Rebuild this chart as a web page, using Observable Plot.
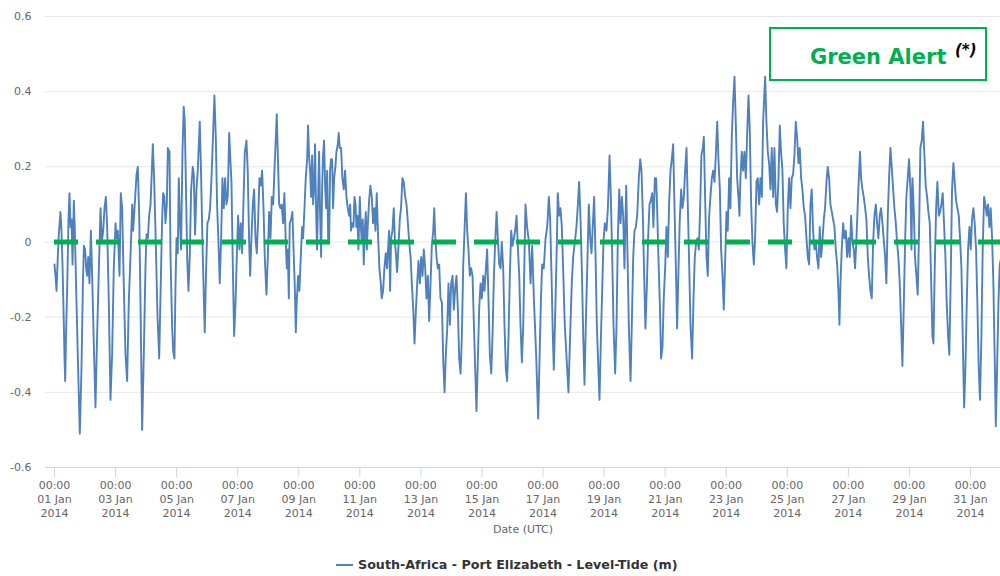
<!DOCTYPE html>
<html><head><meta charset="utf-8">
<script src="https://cdn.jsdelivr.net/npm/d3@7"></script>
<script src="https://cdn.jsdelivr.net/npm/@observablehq/plot@0.6"></script>
<style>
body{margin:0;background:#fff;font-family:"DejaVu Sans",Verdana,sans-serif;}
#wrap{position:relative;width:1000px;height:576px;overflow:hidden;}
#chart{position:absolute;left:0;top:0;}
#alertBox{position:absolute;left:769px;top:27px;width:218px;height:54px;box-sizing:border-box;border:2px solid #00b050;background:#fff;}
#alertText{position:absolute;left:810px;top:45px;font-weight:bold;font-size:21px;line-height:24px;color:#00b050;white-space:nowrap;}
#alertStar{position:absolute;left:955px;top:42px;font-weight:bold;font-style:italic;font-size:15px;line-height:16px;color:#000;}
#legSym{position:absolute;left:336px;top:564px;width:17px;height:2px;background:#4f81bd;}
#legText{position:absolute;left:358px;top:558px;font-weight:bold;font-size:12.7px;line-height:14px;color:#333;white-space:nowrap;}
</style>
</head><body>
<div id="wrap"><div id="chart"></div>
<div id="alertBox"></div><div id="alertText"></div><div id="alertStar"></div>
<div id="legSym"></div><div id="legText"></div></div>
<script>
// [hours since 2014-01-01 00:00 UTC, level (m)]
const tideReadings = [
[0.0,-0.06],[0.8,-0.09],[1.6,-0.13],[2.6,-0.04],[3.4,0.02],[4.7,0.08],[5.5,0.03],[6.3,-0.06],[7.3,-0.21],[7.9,-0.31],[8.4,-0.37],[9.2,-0.23],[10.0,-0.12],[11.0,0.06],[11.8,0.13],[12.6,0.04],[13.4,0.06],[14.2,-0.06],[15.2,0.11],[16.0,0.03],[17.3,-0.16],[18.6,-0.34],[19.9,-0.51],[21.2,-0.34],[22.3,-0.12],[23.1,-0.01],[24.1,-0.02],[24.9,-0.07],[25.7,-0.09],[26.5,-0.04],[27.5,-0.11],[28.6,0.03],[29.6,-0.09],[30.9,-0.27],[32.2,-0.44],[33.5,-0.25],[34.9,-0.07],[36.2,0.09],[37.2,0.00],[38.3,0.03],[39.3,0.09],[40.4,0.12],[41.4,0.04],[42.7,-0.16],[44.0,-0.42],[45.3,-0.30],[46.6,-0.07],[48.0,0.05],[48.7,0.01],[49.8,0.03],[51.1,-0.09],[52.1,0.13],[53.2,0.09],[54.5,-0.12],[55.8,-0.30],[57.1,-0.37],[58.4,-0.16],[59.7,-0.04],[61.1,0.10],[61.8,0.03],[63.1,0.10],[64.5,0.18],[65.5,0.20],[66.6,0.07],[67.6,-0.16],[68.9,-0.50],[70.2,-0.30],[71.5,-0.07],[72.3,0.02],[73.4,0.01],[74.4,0.07],[75.5,0.10],[76.5,0.19],[77.3,0.26],[78.3,0.17],[79.6,0.00],[81.0,-0.20],[82.3,-0.31],[83.6,-0.10],[84.6,0.06],
[85.4,0.13],[86.4,0.12],[87.2,0.05],[88.3,0.10],[89.1,0.25],[90.4,0.24],[91.2,-0.04],[92.5,-0.23],[93.3,-0.29],[94.3,-0.31],[95.1,-0.12],[95.9,0.01],[96.9,-0.03],[97.7,0.17],[98.5,0.06],[99.5,-0.02],[100.6,0.24],[101.6,0.36],[102.4,0.32],[103.2,0.17],[104.3,-0.04],[105.3,-0.13],[106.4,-0.03],[107.4,0.14],[108.7,0.20],[109.5,0.18],[110.5,0.02],[111.6,0.14],[112.6,0.19],[114.2,0.32],[115.3,0.17],[116.3,0.00],[117.4,-0.15],[118.1,-0.24],[119.2,-0.07],[120.2,0.05],[121.3,0.06],[122.3,0.09],[123.4,0.17],[124.7,0.29],[125.7,0.39],[126.8,0.28],[127.8,0.10],[128.9,0.00],[129.9,-0.11],[131.0,0.01],[132.0,0.17],[133.1,0.09],[134.1,0.17],[135.2,0.10],[136.2,0.12],[137.3,0.29],[138.1,0.23],[139.1,0.16],[140.2,-0.07],[141.2,-0.25],[142.3,-0.16],[143.3,-0.04],[144.3,0.07],[145.4,-0.02],[146.4,0.05],[147.5,-0.03],[148.5,0.10],[149.6,0.24],[150.9,0.27],[151.9,0.19],[153.0,0.00],[153.8,-0.09],[154.8,0.01],[155.9,0.10],[156.9,0.14],[158.0,0.01],[159.0,-0.03],[160.1,0.06],[161.1,0.17],[162.2,0.15],[163.2,0.19],[164.3,0.09],[165.3,-0.04],[166.6,-0.14],[167.7,-0.04],[168.7,0.08],[169.8,0.01],[170.8,0.12],[171.9,0.10],[172.9,0.19],[174.0,0.28],[174.7,0.34],[175.5,0.24],[176.6,0.10],[177.6,0.09],
[178.6,0.10],[179.7,0.05],[180.7,0.13],[181.8,0.00],[182.6,-0.07],[183.4,-0.02],[184.2,-0.15],[184.9,0.05],[186.0,0.06],[187.0,0.08],[188.1,-0.04],[188.9,-0.12],[189.7,-0.24],[190.4,-0.16],[191.5,-0.09],[192.5,-0.13],[193.6,-0.04],[194.6,0.04],[195.4,0.01],[196.5,0.09],[197.5,0.17],[198.6,0.22],[199.3,0.31],[200.1,0.23],[200.9,0.19],[201.7,0.12],[202.5,0.23],[203.3,0.10],[204.1,0.15],[204.8,0.26],[205.6,0.09],[206.4,-0.02],[207.2,0.12],[208.0,0.24],[208.8,0.07],[209.6,-0.04],[210.4,0.15],[211.1,0.23],[211.9,0.27],[212.7,0.15],[213.5,0.09],[214.3,0.19],[215.1,0.01],[215.9,0.00],[216.6,0.19],[217.4,0.22],[218.2,0.22],[219.0,0.09],[219.8,0.17],[220.8,0.20],[221.6,0.24],[222.7,0.26],[223.4,0.29],[224.2,0.25],[225.3,0.25],[226.3,0.17],[227.4,0.14],[228.4,0.19],[229.5,0.12],[230.5,0.09],[231.6,0.07],[232.4,0.10],[233.1,0.03],[233.9,0.05],[235.0,0.04],[235.8,0.12],[236.6,0.10],[237.3,0.04],[238.1,0.07],[238.9,-0.02],[240.0,0.12],[240.7,0.05],[241.5,0.00],[242.3,0.06],[243.1,-0.06],[243.9,0.03],[244.7,0.08],[245.5,-0.02],[246.2,0.04],[247.3,0.11],[248.3,0.15],[249.4,0.12],[250.4,0.05],[251.5,0.09],[252.3,0.03],[253.3,0.13],[254.4,0.01],[255.4,-0.07],[256.5,-0.11],[257.2,-0.15],[258.3,-0.13],[259.3,-0.07],[260.4,-0.03],[261.4,-0.07],[262.2,-0.02],[263.0,0.03],[263.8,-0.13],[264.6,0.01],[265.6,0.03],[266.7,0.09],[267.5,0.01],[268.5,-0.04],[269.3,-0.08],[270.4,-0.01],[271.4,0.06],[272.4,0.09],[273.5,0.17],[274.5,0.16],
[275.7,0.12],[276.7,0.10],[277.8,0.05],[278.8,0.00],[279.9,-0.04],[280.9,-0.11],[282.0,-0.18],[283.0,-0.27],[284.1,-0.18],[285.1,-0.11],[286.1,-0.05],[287.2,-0.11],[288.2,-0.04],[289.3,-0.09],[290.3,-0.02],[291.4,-0.07],[292.4,-0.15],[293.5,-0.09],[294.5,-0.21],[295.6,-0.11],[296.6,-0.01],[297.7,0.03],[298.5,0.09],[299.2,0.02],[300.3,-0.04],[301.3,-0.07],[302.4,-0.06],[303.4,-0.15],[304.5,-0.16],[305.5,-0.31],[306.6,-0.40],[307.6,-0.30],[308.7,-0.23],[309.7,-0.11],[310.8,-0.22],[311.8,-0.11],[312.9,-0.09],[313.9,-0.18],[315.0,-0.12],[316.0,-0.09],[317.1,-0.18],[318.1,-0.31],[319.2,-0.35],[320.2,-0.25],[321.3,-0.06],[322.3,0.03],[323.4,0.13],[324.4,0.03],[325.4,-0.02],[326.5,-0.09],[327.5,-0.07],[328.6,-0.09],[329.6,-0.21],[330.7,-0.34],[331.7,-0.45],[332.8,-0.31],[333.8,-0.18],[334.9,-0.11],[335.9,-0.15],[337.0,-0.09],[338.0,-0.13],[339.1,-0.07],[340.1,-0.02],[341.2,-0.16],[342.2,-0.30],[343.3,-0.35],[344.3,-0.25],[345.4,-0.09],[346.4,0.00],[347.5,0.08],[348.5,0.01],[349.6,-0.06],[350.6,-0.07],[351.6,0.00],[352.7,-0.07],[353.7,-0.22],[354.8,-0.34],[355.8,-0.37],[356.9,-0.25],[357.9,-0.09],[359.0,0.03],[360.0,-0.01],[361.1,0.01],[362.1,0.03],[363.2,0.07],[364.2,-0.01],[365.3,-0.09],[366.3,-0.22],[367.4,-0.32],[368.4,-0.23],
[370.2,0.10],[371.5,0.04],[372.9,0.00],[374.2,-0.11],[375.5,-0.01],[376.8,-0.15],[378.6,-0.30],[380.2,-0.47],[381.2,-0.32],[382.3,-0.16],[383.3,-0.06],[384.6,-0.07],[386.0,0.01],[387.3,0.04],[388.6,0.12],[389.6,0.06],[390.7,-0.09],[391.7,-0.25],[392.5,-0.34],[393.8,-0.16],[394.9,0.00],[395.6,0.13],[396.7,0.07],[397.7,0.09],[398.8,0.04],[399.8,-0.07],[401.1,-0.22],[402.7,-0.32],[404.0,-0.40],[405.3,-0.25],[406.6,-0.11],[407.7,-0.04],[409.0,0.00],[410.3,0.04],[411.4,0.10],[412.4,0.16],[413.5,0.06],[414.5,-0.07],[415.6,-0.25],[416.6,-0.38],[417.9,-0.18],[419.0,-0.04],[420.0,0.10],[421.1,0.01],[422.1,-0.03],[423.2,0.05],[424.2,0.12],[425.3,-0.04],[426.3,-0.22],[427.3,-0.32],[428.4,-0.42],[429.4,-0.27],[430.5,-0.13],[431.5,0.00],[432.6,0.05],[433.9,0.03],[435.0,0.09],[436.3,0.23],[437.3,0.12],[438.4,-0.04],[439.4,-0.22],[440.7,-0.35],[441.8,-0.22],[442.8,0.01],[443.9,0.14],[444.9,0.05],[446.0,0.12],[447.0,0.07],[448.0,-0.07],[449.4,0.15],[450.4,-0.03],[451.5,-0.23],[452.8,-0.37],[453.8,-0.22],[454.9,-0.04],[455.9,0.03],[457.0,0.04],[458.0,0.07],[459.3,0.17],[460.4,0.22],[461.4,0.19],[462.5,0.07],[463.5,-0.09],
[464.5,-0.23],[465.6,-0.12],[466.6,0.01],[467.7,0.10],[468.7,0.11],[469.8,0.13],[470.8,0.04],[471.9,0.17],[472.9,0.17],[473.7,0.09],[474.7,-0.04],[475.8,-0.16],[476.8,-0.31],[477.9,-0.28],[478.9,-0.15],[480.0,-0.07],[481.0,0.04],[482.1,-0.04],[483.1,0.10],[484.2,0.19],[485.2,0.22],[486.3,0.26],[487.3,0.10],[488.4,-0.06],[489.4,-0.23],[490.5,-0.07],[491.5,0.06],[492.6,0.14],[493.6,0.09],[494.7,0.12],[495.7,0.19],[496.8,0.25],[497.8,0.10],[498.9,-0.06],[499.9,-0.22],[501.2,-0.31],[502.3,-0.15],[503.3,-0.04],[504.4,0.00],[505.4,0.01],[506.5,-0.02],[507.5,0.09],[508.5,0.23],[509.6,0.25],[510.4,0.28],[511.4,0.12],[512.5,-0.04],[513.5,-0.09],[514.6,0.07],[515.6,0.12],[516.7,0.17],[517.7,0.19],[518.8,0.16],[519.8,0.23],[520.9,0.32],[521.9,0.22],[523.0,0.14],[524.0,-0.02],[525.1,-0.09],[526.1,-0.18],[527.1,-0.06],[528.2,0.08],[529.2,0.03],[530.3,0.17],[531.3,0.09],[532.4,0.28],[533.4,0.37],[534.5,0.44],[535.5,0.32],[536.6,0.17],[537.6,0.12],[538.4,0.07],[539.2,0.17],[540.2,0.24],[541.3,0.19],[542.3,0.24],[543.4,0.17],[544.4,0.28],[545.5,0.39],[546.5,0.30],[547.6,0.10],[548.6,0.00],[549.7,-0.06],[550.7,0.01],[551.8,0.16],[552.8,0.17],[553.9,0.10],[554.9,0.17],[556.0,0.12],[557.0,0.32],
[558.6,0.44],[559.6,0.32],[560.7,0.24],[561.7,0.21],[562.8,0.14],[563.8,0.25],[564.9,0.12],[565.9,0.25],[567.0,0.10],[568.0,0.08],[569.1,0.17],[570.1,0.31],[571.1,0.24],[572.2,0.19],[573.2,0.05],[574.3,-0.02],[575.3,-0.07],[576.4,0.09],[577.4,0.17],[578.5,0.09],[579.5,0.17],[580.6,0.18],[581.6,0.23],[582.7,0.32],[583.7,0.28],[584.8,0.21],[585.8,0.25],[586.9,0.17],[587.9,0.14],[589.0,0.09],[590.0,0.07],[591.1,0.01],[592.1,-0.04],[593.2,-0.06],[594.2,0.10],[595.2,0.14],[596.3,0.03],[597.3,-0.02],[598.4,0.00],[599.4,-0.04],[600.5,-0.07],[601.5,0.04],[602.6,-0.04],[603.6,0.00],[604.7,0.06],[605.7,0.09],[606.8,0.16],[607.8,0.20],[608.9,0.17],[609.9,0.10],[611.0,0.08],[612.0,0.06],[613.1,0.04],[614.1,-0.02],[615.2,-0.06],[616.2,-0.13],[617.0,-0.22],[617.8,-0.11],[618.8,-0.02],[619.9,0.05],[620.9,0.01],[622.0,0.03],[623.0,-0.04],[624.1,0.01],[625.1,-0.04],[626.2,0.07],[627.2,0.00],[628.3,-0.02],[629.3,-0.07],[630.4,0.01],[631.4,0.10],[632.5,0.19],[633.2,0.24],[634.0,0.17],[635.1,0.14],[636.1,0.12],[637.2,0.09],[638.2,0.06],[639.3,-0.04],[640.3,-0.09],[641.4,-0.13],[642.4,-0.15],[643.5,0.00],[644.5,0.07],[645.6,0.10],[646.6,0.05],[647.6,0.01],[648.7,0.07],[649.7,0.09],[650.8,0.05],
[652.9,-0.04],[653.9,-0.11],[655.0,0.07],[656.0,0.17],[657.1,0.25],[658.1,0.20],[659.2,0.14],[660.2,0.09],[661.3,0.05],[662.3,0.00],[663.3,-0.04],[664.4,-0.11],[665.4,-0.21],[666.5,-0.33],[667.5,-0.18],[668.6,0.00],[669.6,0.12],[670.7,0.17],[671.7,0.22],[672.8,0.14],[673.6,-0.02],[674.4,0.17],[675.4,0.09],[676.4,-0.04],[677.5,-0.09],[678.5,-0.14],[679.6,0.03],[680.6,0.25],[681.7,0.27],[682.7,0.32],[683.8,0.23],[684.8,0.15],[685.9,0.12],[686.9,0.08],[688.0,0.05],[689.0,-0.09],[690.1,-0.25],[690.9,-0.27],[691.9,-0.07],[693.0,0.09],[694.0,0.16],[695.1,0.07],[696.1,0.08],[697.1,0.10],[698.2,0.13],[699.2,0.05],[700.3,-0.04],[701.3,-0.16],[702.4,-0.25],[703.4,-0.30],[704.5,-0.09],[705.5,0.14],[706.6,0.21],[707.6,0.16],[708.7,0.11],[709.7,0.09],[710.8,0.07],[711.8,0.01],[712.9,-0.07],[713.9,-0.25],[715.0,-0.44],[716.0,-0.34],[717.1,-0.16],[718.1,-0.02],[719.2,0.04],[720.2,-0.02],[721.2,0.06],[722.3,0.09],[723.3,0.05],[724.4,-0.02],[725.4,-0.16],[726.5,-0.34],[727.5,-0.42],[728.6,-0.25],[729.6,-0.02],[730.7,0.12],[731.7,0.10],[732.8,0.07],[733.8,0.10],[734.9,0.04],[735.9,0.09],[737.0,0.01],[738.0,-0.11],[739.1,-0.32],[739.9,-0.49],[740.9,-0.34],[742.0,-0.16],[743.0,-0.06],[743.6,-0.05]
];
const seriesName = "South-Africa - Port Elizabeth - Level-Tide (m)";
const alertLabel = "Green Alert";
const alertNote = "(*)";
const alertLevel = 0;
const xTitle = "Date (UTC)";
const yTicks = [-0.6, -0.4, -0.2, 0, 0.2, 0.4, 0.6];
const xTickDays = [1,3,5,7,9,11,13,15,17,19,21,23,25,27,29,31];
const xDomain = [new Date(Date.UTC(2013,11,31,16,56)), new Date(Date.UTC(2014,0,31,23,36))];

const start = Date.UTC(2014,0,1);
const data = tideReadings.map(([h, v]) => ({date: new Date(start + h * 3600e3), level: v}));
const xTicks = xTickDays.map(d => new Date(Date.UTC(2014,0,d)));
const fmtX = d3.utcFormat("%H:%M\n%d %b\n%Y");
const fmtY = d => d === 0 ? "0" : d.toFixed(1);

const chart = Plot.plot({
  width: 1000, height: 545,
  marginLeft: 45, marginRight: 0, marginTop: 16, marginBottom: 78,
  style: {fontFamily: "'DejaVu Sans', Verdana, sans-serif", fontSize: "11px", color: "#666", background: "#fff"},
  x: {type: "utc", domain: xDomain},
  y: {domain: [-0.6, 0.6]},
  marks: [
    Plot.ruleY(yTicks, {stroke: "#e6e6e6", strokeWidth: 1}),
    Plot.ruleY([-0.6], {stroke: "#ccd6eb", strokeWidth: 1}),
    Plot.axisY({ticks: yTicks, tickSize: 0, tickPadding: 14, tickFormat: fmtY, fill: "#666", fontSize: 11, label: null}),
    Plot.axisX({ticks: xTicks, tickSize: 10, tickPadding: 1, tickFormat: fmtX, stroke: "#ccd6eb", fill: "#666", fontSize: 11, lineHeight: 1.3, label: null}),
    Plot.text([xTitle], {text: d => d, frameAnchor: "bottom", dy: 65, fill: "#666", fontSize: 11}),
    Plot.line(data, {x: "date", y: "level", stroke: "#4f81bd", strokeWidth: 1.9, strokeLinejoin: "round"}),
    Plot.ruleY([alertLevel], {x1: () => data[0].date, x2: () => data[data.length - 1].date, stroke: "#00b050", strokeWidth: 5, strokeDasharray: "24,18"})
  ]
});
document.getElementById("chart").appendChild(chart);
document.getElementById("alertText").textContent = alertLabel;
document.getElementById("alertStar").textContent = alertNote;
document.getElementById("legText").textContent = seriesName;
</script>
</body></html>
